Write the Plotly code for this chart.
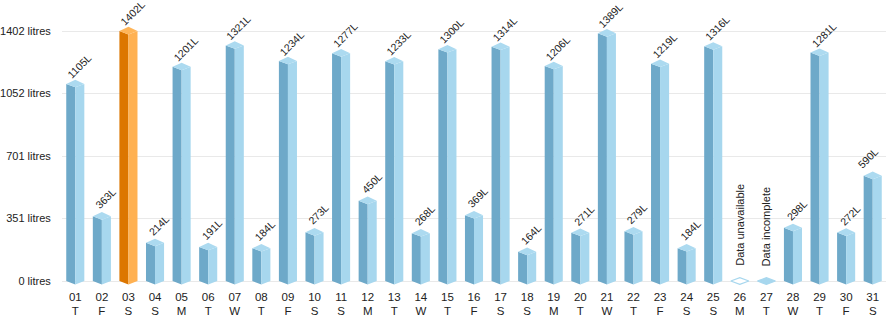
import plotly.graph_objects as go

days = [f"{i:02d}" for i in range(1, 32)]
weekdays = ["T","F","S","S","M","T","W","T","F","S","S","M","T","W","T","F","S","S","M","T","W","T","F","S","S","M","T","W","T","F","S"]
values = [1105, 363, 1402, 214, 1201, 191, 1321, 184, 1234, 273, 1277, 450, 1233, 268, 1300,
          369, 1314, 164, 1206, 271, 1389, 279, 1219, 184, 1316, None, 0, 298, 1281, 272, 590]
status = {25: "Data unavailable", 26: "Data incomplete"}
highlight = 2  # index of maximum day
ytick_vals = [0, 350.5, 701, 1051.5, 1402]
ytick_text = ["0 litres", "351 litres", "701 litres", "1052 litres", "1402 litres"]

W, H = 886, 317
ML, MR, MT, MB = 62, 0, 0, 32
plot_h = H - MT - MB
px_per_unit = 250 / 1402
y_min = -4 / px_per_unit
y_max = y_min + plot_h / px_per_unit
upx = 1 / px_per_unit  # data units per pixel (y)

hw = 0.34
d_front = 3.4 * upx
d_back = 4.2 * upx

BLUE_DARK, BLUE_LIGHT, BLUE_TOP = "#6ea9c9", "#a7d7ee", "#acdaf0"
ORG_DARK, ORG_LIGHT, ORG_TOP = "#dc7600", "#ffb152", "#ffb558"
FONT = "Liberation Sans, Arial, sans-serif"

def polys(idx_list, kind):
    xs, ys = [], []
    for i in idx_list:
        v = values[i]
        c = i
        if kind == "dark":
            px = [c - hw, c, c, c - hw, c - hw]
            py = [0, -d_front, v - d_front, v, 0]
        elif kind == "light":
            px = [c, c + hw, c + hw, c, c]
            py = [-d_front, 0, v, v - d_front, -d_front]
        else:
            px = [c - hw, c, c + hw, c, c - hw]
            py = [v, v + d_back, v, v - d_front, v]
        xs += px + [None]
        ys += py + [None]
    return xs, ys

fig = go.Figure()
blue_idx = [i for i, v in enumerate(values) if v and i != highlight]
org_idx = [highlight]

for idx, cols in [(blue_idx, (BLUE_DARK, BLUE_LIGHT, BLUE_TOP)), (org_idx, (ORG_DARK, ORG_LIGHT, ORG_TOP))]:
    for kind, col in zip(["dark", "light", "top"], cols):
        xs, ys = polys(idx, kind)
        fig.add_trace(go.Scatter(x=xs, y=ys, mode="lines", fill="toself", fillcolor=col,
                                 line=dict(width=0, color=col), hoverinfo="skip", showlegend=False))

# placeholder diamonds for missing / incomplete days
for i, v in enumerate(values):
    if i in status:
        c = i
        px = [c - hw, c, c + hw, c, c - hw]
        py = [0, d_back * 0.8, 0, -d_front, 0]
        filled = values[i] is not None
        fig.add_trace(go.Scatter(x=px, y=py, mode="lines", fill="toself",
                                 fillcolor=BLUE_LIGHT if filled else "white",
                                 line=dict(width=1.2, color=BLUE_LIGHT), hoverinfo="skip", showlegend=False))
        fig.add_annotation(x=c, y=0, text=status[i], textangle=-90, showarrow=False,
                           xanchor="center", yanchor="bottom", yshift=13,
                           font=dict(family=FONT, size=11, color="#222"))

for i, v in enumerate(values):
    if v:
        xs_ = -5 if i == len(values) - 1 else 4
        fig.add_annotation(x=i, y=v, text=f"{v}L", textangle=-45, showarrow=False,
                           xanchor="center", yanchor="middle", xshift=xs_, yshift=18,
                           font=dict(family=FONT, size=10.5, color="#222"))

# invisible trace to activate the weekday axis
fig.add_trace(go.Scatter(x=[0, 30], y=[0, 0], xaxis="x2", mode="markers",
                         marker=dict(opacity=0), hoverinfo="skip", showlegend=False))

common_x = dict(range=[-0.5, 30.5], tickvals=list(range(31)), showgrid=False, zeroline=False,
                showline=False, ticks="outside", tickcolor="rgba(0,0,0,0)", automargin=False,
                fixedrange=True, tickfont=dict(family=FONT, size=11.5, color="#222"))

fig.update_layout(
    width=W, height=H, margin=dict(l=ML, r=MR, t=MT, b=MB, autoexpand=False),
    paper_bgcolor="white", plot_bgcolor="white",
    font=dict(family=FONT, size=12, color="#222"),
    xaxis=dict(ticktext=days, ticklen=1, **common_x),
    xaxis2=dict(ticktext=weekdays, ticklen=15, overlaying="x", side="bottom", anchor="y", **common_x),
    yaxis=dict(range=[y_min, y_max], tickvals=ytick_vals, ticktext=ytick_text,
               showgrid=True, gridcolor="#e9e9e9", gridwidth=1, zeroline=False,
               showline=False, ticks="outside", ticklen=8, tickcolor="rgba(0,0,0,0)",
               tickfont=dict(family=FONT, size=11, color="#222"),
               automargin=False, fixedrange=True),
    showlegend=False,
)

fig.write_html("out.html")
